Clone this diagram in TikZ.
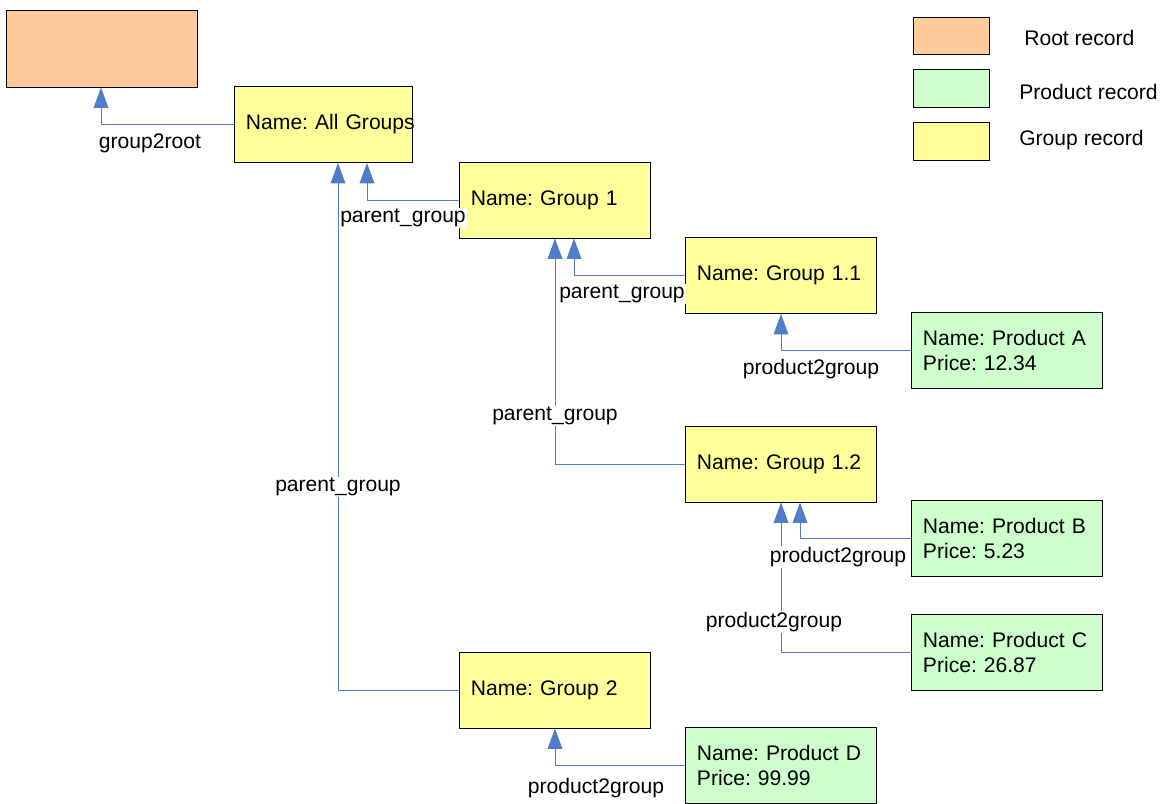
\documentclass[tikz,border=0pt]{standalone}
\usepackage{fontspec}
\setmainfont{Liberation Sans}
\usetikzlibrary{arrows.meta, calc}
\definecolor{rootfill}{RGB}{255,202,153}
\definecolor{prodfill}{RGB}{204,255,204}
\definecolor{groupfill}{RGB}{255,255,153}
\definecolor{linkblue}{RGB}{79,125,200}

\begin{document}
\frenchspacing
\begin{tikzpicture}[
  x=0.025cm, y=-0.025cm,
  every node/.style={font=\fontsize{15}{18}\selectfont},
  record/.style={draw, line width=0.7pt, align=left, inner xsep=0.275cm, text width=4.2cm, minimum width=4.75cm, minimum height=1.9cm},
  rootrec/.style={record, fill=rootfill, minimum width=4.7cm},
  grouprec/.style={record, fill=groupfill},
  prodrec/.style={record, fill=prodfill},
  legendbox/.style={draw, line width=0.7pt, minimum width=1.9cm, minimum height=0.94cm, inner sep=0pt},
  tag/.style={fill=white, inner sep=1pt},
  link/.style={-{Triangle[width=10.5pt, length=14.5pt]}, draw=linkblue, line width=0.6pt}
]
\useasboundingbox (0,0) rectangle (1169,803);

% records
\node[rootrec] (root) at (102,49) {};
\node[grouprec, minimum width=4.425cm, text width=3.875cm] (allgroups) at (323.5,124.5) {\mbox{Name: All Groups}};
\node[grouprec] (g1) at (555,200) {Name: Group 1};
\node[grouprec] (g11) at (781,275.5) {Name: Group 1.1};
\node[prodrec] (pa) at (1007,350.5) {Name: Product A\\Price: 12.34};
\node[grouprec] (g12) at (781,464) {Name: Group 1.2};
\node[prodrec] (pb) at (1007,538.5) {Name: Product B\\Price: 5.23};
\node[prodrec] (pc) at (1007,652.5) {Name: Product C\\Price: 26.87};
\node[grouprec] (g2) at (555,690) {Name: Group 2};
\node[prodrec] (pd) at (781,765.5) {Name: Product D\\Price: 99.99};

% legend
\node[legendbox, fill=rootfill] (legroot) at (951,36) {};
\node[legendbox, fill=prodfill] (legprod) at (951,88.5) {};
\node[legendbox, fill=groupfill] (leggroup) at (951,141.5) {};
\node[anchor=west, inner sep=0pt] (legroottxt) at (1024,38) {Root record};
\node[anchor=west, inner sep=0pt] (legprodtxt) at (1019,92) {Product record};
\node[anchor=west, inner sep=0pt] (leggrouptxt) at (1019,140) {Group record};

% links
\draw[link] (allgroups.west) -| ($(root.south)+(-1,0)$);
\draw[link] (g1.west) -| ($(allgroups.south)+(43.5,0)$);
\draw[link] (g2.west) -| ($(allgroups.south)+(14.5,0)$);
\draw[link] (g11.west) -| ($(g1.south)+(19,0)$);
\draw[link] (g12.west) -| (g1.south);
\draw[link] (pa.west) -| (g11.south);
\draw[link] (pb.west) -| ($(g12.south)+(19,0)$);
\draw[link] (pc.west) -| (g12.south);
\draw[link] (pd.west) -| (g2.south);

% link labels
\node[tag] (t0) at (150,143) {group2root};
\node[tag] (t1) at (403,218) {parent\_group};
\node[tag] (t2) at (338,487) {parent\_group};
\node[tag] (t3) at (622,294) {parent\_group};
\node[tag] (t4) at (555,416) {parent\_group};
\node[tag] (t5) at (811,369) {product2group};
\node[tag] (t6) at (838,557) {product2group};
\node[tag] (t7) at (774,622) {product2group};
\node[tag] (t8) at (596,788) {product2group};
\end{tikzpicture}
\end{document}
